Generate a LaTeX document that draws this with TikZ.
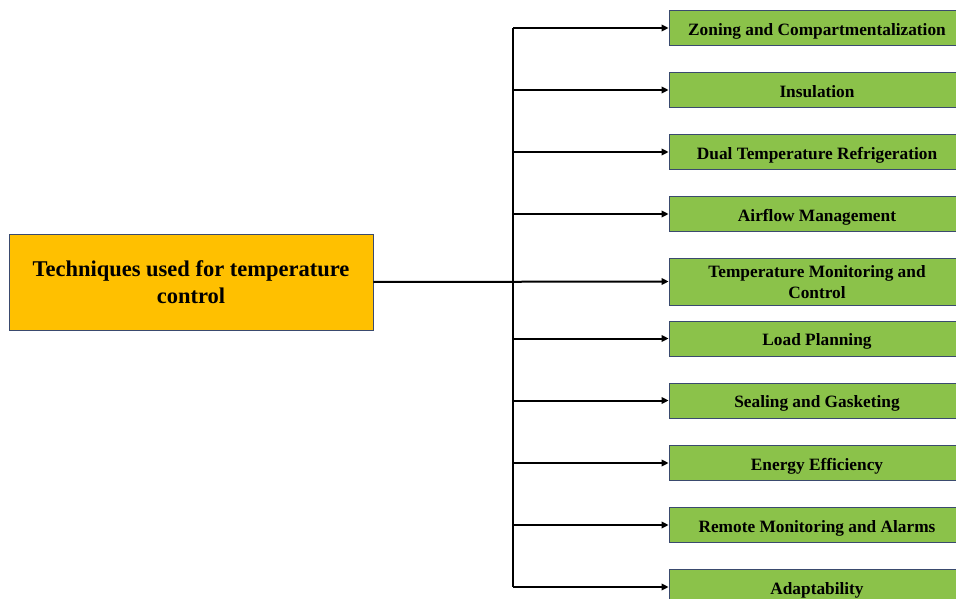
\documentclass[tikz,border=0pt]{standalone}
\usepackage{fontspec}
\setmainfont{Liberation Serif}
\usetikzlibrary{arrows.meta}
\definecolor{gold}{HTML}{FFC000}
\definecolor{leaf}{HTML}{8BC24A}
\definecolor{edge}{HTML}{3A4A6E}
\newcommand{\lowered}[2]{\raisebox{#1}[\height][\depth]{\begin{tabular}{@{}c@{}}#2\end{tabular}}}
\begin{document}
\begin{tikzpicture}[x=1pt,y=-1pt,
  mainbox/.style={draw=edge,line width=0.8pt,fill=gold,minimum width=364pt,minimum height=96pt,inner sep=0pt,align=center,font=\bfseries\fontsize{22.5}{27}\selectfont},
  leafbox/.style={draw=edge,line width=0.8pt,fill=leaf,minimum width=296pt,minimum height=35pt,inner sep=0pt,align=center,font=\bfseries\fontsize{17.3}{21}\selectfont},
  conn/.style={line width=2pt,-{Triangle[length=7pt,width=6.5pt]}},
  trunk/.style={line width=2pt}]
\useasboundingbox (0,0) rectangle (956,599);
\node[mainbox] (root) at (191,282) {\lowered{-3pt}{Techniques used for temperature\\control}};
\foreach \n/\y/\t in {l1/28/Zoning and Compartmentalization,l2/90/Insulation,l3/152/Dual Temperature Refrigeration,l4/214/Airflow Management,l6/338.5/Load Planning,l7/400.5/Sealing and Gasketing,l8/463/Energy Efficiency,l9/525/Remote Monitoring and Alarms,l10/587/Adaptability}
  \node[leafbox] (\n) at (817,\y) {\lowered{-3pt}{\t}};
\node[leafbox,minimum height=47pt] (l5) at (817,281.5) {\lowered{-2pt}{Temperature Monitoring and\\Control}};
\coordinate (top) at (513,28);
\coordinate (bot) at (513,587);
\draw[trunk] (top) -- (bot);
\draw[conn] (root.east) -- (l5.west);
\foreach \n in {l1,l2,l3,l4,l6,l7,l8,l9,l10}
  \draw[conn] (top |- \n.west) -- (\n.west);
\end{tikzpicture}
\end{document}
